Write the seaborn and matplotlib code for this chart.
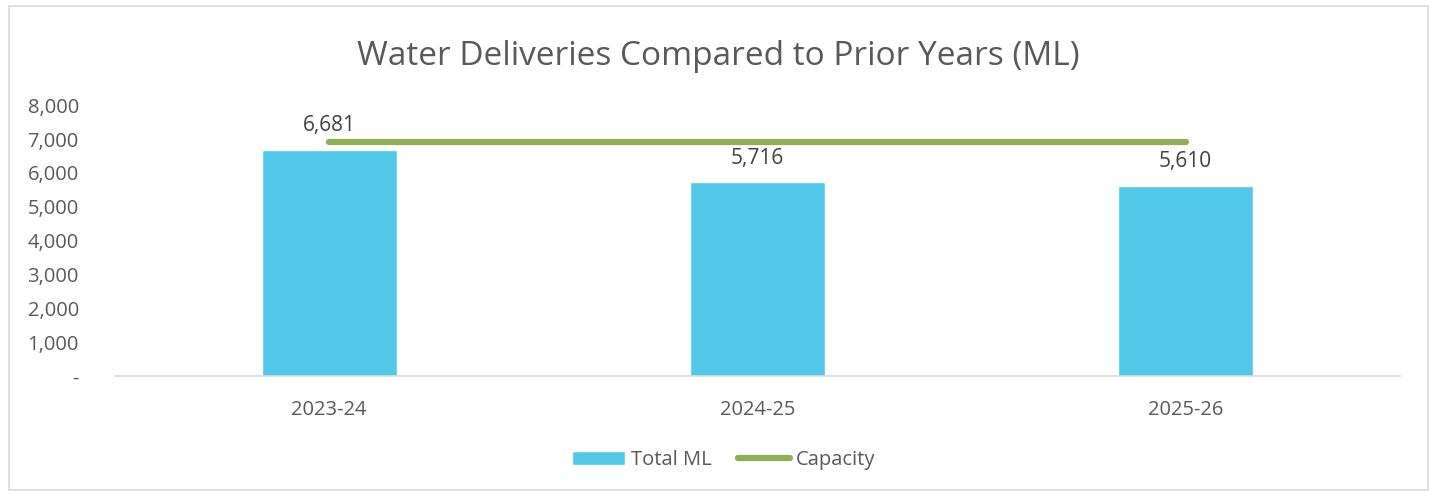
import pandas as pd
import matplotlib.pyplot as plt
import seaborn as sns
from matplotlib.ticker import FuncFormatter
from matplotlib.patches import Rectangle

# Chart data
years = ["2023-24", "2024-25", "2025-26"]
total_ml = [6681, 5716, 5610]
capacity = [6900, 6900, 6900]

df = pd.DataFrame({"Year": years, "Total ML": total_ml, "Capacity": capacity})

sns.set_theme(style="white")
plt.rcParams['font.family'] = ['Open Sans', 'DejaVu Sans']
text_grey = "#595959"

fig = plt.figure(figsize=(14.37, 4.96), dpi=100)
ax = fig.add_axes([0.080, 0.242, 0.894, 0.546])

bar_color = "#52C8E8"
line_color = "#8FAE55"

sns.barplot(data=df, x="Year", y="Total ML", color=bar_color, width=0.315,
            saturation=1, ax=ax, label="Total ML")
sns.lineplot(data=df, x="Year", y="Capacity", color=line_color, linewidth=4.5,
             solid_capstyle="round", ax=ax, label="Capacity")

# Data labels on bars
for i, v in enumerate(total_ml):
    ax.annotate(f"{v:,}", (i, v), xytext=(0, 10), textcoords="offset points",
                ha="center", va="bottom", fontsize=15, color="#404040")

ax.set_xlim(-0.5, 2.5)
ax.set_ylim(0, 8000)
ax.set_yticks(range(0, 8001, 1000))
ax.yaxis.set_major_formatter(FuncFormatter(lambda v, p: "-" if v == 0 else f"{int(v):,}"))
ax.tick_params(axis="both", labelsize=14.5, labelcolor=text_grey, length=0)
ax.tick_params(axis="x", pad=17)
ax.tick_params(axis="y", pad=26)
ax.set_xlabel("")
ax.set_ylabel("")

for side in ["top", "right", "left"]:
    ax.spines[side].set_visible(False)
ax.spines["bottom"].set_color("#D9D9D9")
ax.spines["bottom"].set_linewidth(1.2)

fig.suptitle("Water Deliveries Compared to Prior Years (ML)", y=0.92,
             fontsize=24, color=text_grey)

# Legend: bars first, then the capacity line
handles, labels = ax.get_legend_handles_labels()
order = [labels.index("Total ML"), labels.index("Capacity")]
ax.legend([handles[i] for i in order], [labels[i] for i in order],
          loc="center", bbox_to_anchor=(0.474, -0.31), ncol=2, frameon=False,
          fontsize=14.5, labelcolor=text_grey, handlelength=2.6, handletextpad=0.3,
          columnspacing=1.3)

# Chart area border
fig.patches.append(Rectangle((0.006, 0.012), 0.988, 0.976, transform=fig.transFigure,
                             fill=False, edgecolor="#D9D9D9", linewidth=1.2))

fig.savefig("out.png", dpi=100)
